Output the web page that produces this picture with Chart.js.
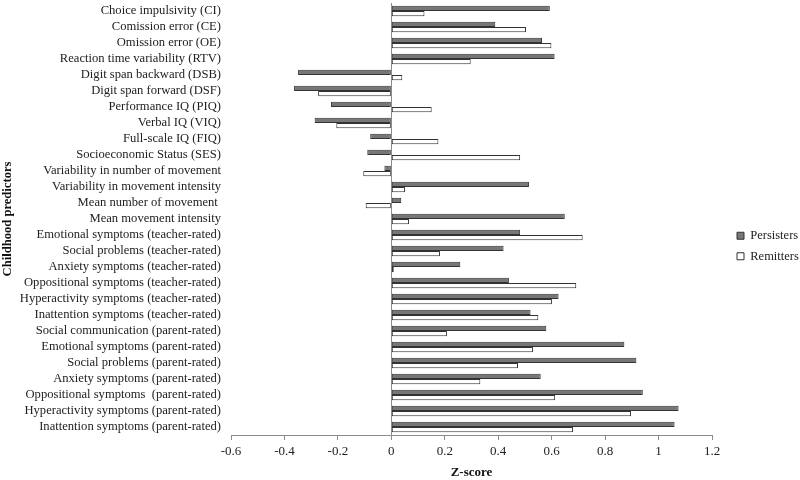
<!DOCTYPE html>
<html>
<head>
<meta charset="utf-8">
<script src="https://cdn.jsdelivr.net/npm/chart.js@4"></script>
<style>
  html, body { margin: 0; padding: 0; background: #fff; }
  #wrap { width: 800px; height: 480px; }
</style>
</head>
<body>
<div id="wrap"><canvas id="c"></canvas></div>
<script>
const categories = [
  "Choice impulsivity (CI)",
  "Comission error (CE)",
  "Omission error (OE)",
  "Reaction time variability (RTV)",
  "Digit span backward (DSB)",
  "Digit span forward (DSF)",
  "Performance IQ (PIQ)",
  "Verbal IQ (VIQ)",
  "Full-scale IQ (FIQ)",
  "Socioeconomic Status (SES)",
  "Variability in number of movement",
  "Variability in movement intensity",
  "Mean number of movement ",
  "Mean movement intensity",
  "Emotional symptoms (teacher-rated)",
  "Social problems (teacher-rated)",
  "Anxiety symptoms (teacher-rated)",
  "Oppositional symptoms (teacher-rated)",
  "Hyperactivity symptoms (teacher-rated)",
  "Inattention symptoms (teacher-rated)",
  "Social communication (parent-rated)",
  "Emotional symptoms (parent-rated)",
  "Social problems (parent-rated)",
  "Anxiety symptoms (parent-rated)",
  "Oppositional symptoms  (parent-rated)",
  "Hyperactivity symptoms (parent-rated)",
  "Inattention symptoms (parent-rated)"
];
const persisters = [
  0.593, 0.389, 0.564, 0.611, -0.349, -0.364, -0.226, -0.287, -0.079, -0.090,
  -0.026, 0.515, 0.037, 0.649, 0.482, 0.420, 0.258, 0.440, 0.626, 0.521,
  0.580, 0.872, 0.917, 0.559, 0.941, 1.075, 1.060
];
const remitters = [
  0.124, 0.504, 0.599, 0.297, 0.041, -0.274, 0.151, -0.206, 0.176, 0.482,
  -0.105, 0.051, -0.096, 0.066, 0.716, 0.182, 0.009, 0.692, 0.601, 0.550,
  0.208, 0.530, 0.474, 0.333, 0.613, 0.897, 0.680
];
const seriesNames = ["Persisters", "Remitters"];
const xTickLabels = ["-0.6", "-0.4", "-0.2", "0", "0.2", "0.4", "0.6", "0.8", "1", "1.2"];
const xTitle = "Z-score";
const yTitle = "Childhood predictors";

const FONT = "'Liberation Serif', 'Times New Roman', serif";

const layoutFix = {
  id: 'layoutFix',
  beforeLayout(chart) {
    const lg = chart.legend;
    if (lg && !lg._fx) {
      const f = lg.fit;
      lg.fit = function () { f.call(this); this.width = 88; };
      lg._fx = true;
    }
  },
  afterLayout(chart) {
    const lg = chart.legend;
    if (lg) { lg.left = 729; lg.top = 6; lg.bottom = 486; }
  }
};

new Chart(document.getElementById('c'), {
  type: 'bar',
  data: {
    labels: categories,
    datasets: [
      {
        label: seriesNames[0],
        data: persisters,
        backgroundColor: '#777777',
        borderColor: '#333333',
        borderWidth: 1,
        borderSkipped: false
      },
      {
        label: seriesNames[1],
        data: remitters,
        backgroundColor: '#ffffff',
        borderColor: '#333333',
        borderWidth: 1,
        borderSkipped: false
      }
    ]
  },
  options: {
    indexAxis: 'y',
    responsive: true,
    maintainAspectRatio: false,
    animation: false,
    devicePixelRatio: 1,
    categoryPercentage: 0.66,
    barPercentage: 1.0,
    layout: { padding: { top: 3, left: 0, right: 0, bottom: 0 } },
    plugins: {
      legend: {
        position: 'right',
        labels: {
          boxWidth: 7,
          boxHeight: 7,
          padding: 8,
          color: '#222',
          font: { family: FONT, size: 12.5 }
        }
      },
      tooltip: { enabled: false }
    },
    scales: {
      x: {
        type: 'linear',
        min: -0.6,
        max: 1.2,
        ticks: {
          stepSize: 0.2,
          color: '#222',
          font: { family: FONT, size: 13 },
          padding: 4,
          callback: (v, i) => xTickLabels[i]
        },
        grid: {
          drawOnChartArea: true,
          color: (ctx) => (ctx.tick && Math.abs(ctx.tick.value) < 1e-9) ? '#8c8c8c' : 'rgba(0,0,0,0)',
          tickColor: '#8c8c8c',
          tickLength: 5,
          lineWidth: 1
        },
        border: { display: true, color: '#8c8c8c', width: 1 },
        title: {
          display: true,
          text: xTitle,
          color: '#111',
          font: { family: FONT, size: 13, weight: 'bold' },
          padding: { top: 2, bottom: 0 }
        },
        afterFit: (s) => { s.height = 45; }
      },
      y: {
        ticks: {
          color: '#222',
          font: { family: FONT, size: 12.6 },
          padding: 10,
          autoSkip: false
        },
        grid: { display: false, drawTicks: false },
        border: { display: false },
        title: {
          display: true,
          text: yTitle,
          color: '#111',
          font: { family: FONT, size: 12.6, weight: 'bold' },
          padding: { top: 0, bottom: 0 }
        },
        afterFit: (s) => { s.width = 231; s.paddingTop = 0; s.paddingBottom = 0; }
      }
    }
  },
  plugins: [layoutFix]
});
</script>
</body>
</html>
